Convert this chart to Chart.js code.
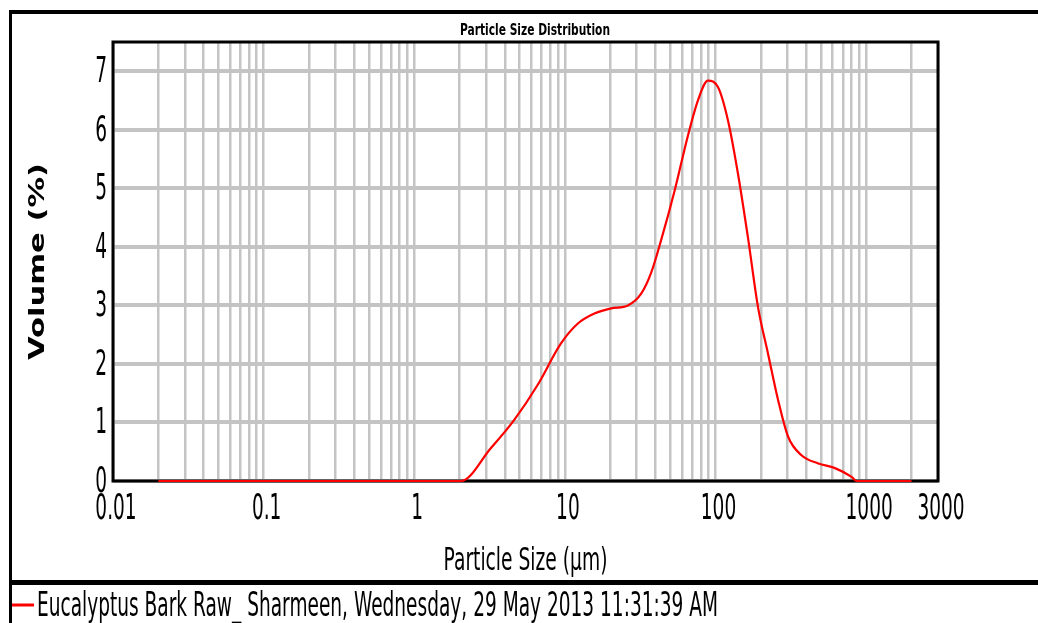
<!DOCTYPE html>
<html>
<head>
<meta charset="utf-8">
<script src="https://cdn.jsdelivr.net/npm/chart.js@4.4.1/dist/chart.umd.min.js"></script>
<style>
  body { margin: 0; background: #fff; }
  canvas { display: block; }
</style>
</head>
<body>
<canvas id="psd" width="1038" height="623"></canvas>
<script>
// particle size (um) and volume (%) along the measured curve
var sizes = [0.02, 2.04, 3.22, 4.6, 6.59, 9.42, 12.2, 15.7, 20.3, 26.2, 32.1, 37.4, 43.6, 53.4, 65.6, 76.4,
  89.1, 103.8, 121, 141, 164, 191.5, 223, 260.5, 303, 372, 481, 621, 801, 865, 2000];
var volumes = [0, 0, 0.56, 1.04, 1.64, 2.35, 2.69, 2.86, 2.95, 3.0, 3.2, 3.56, 4.12, 4.95, 5.9, 6.5,
  6.84, 6.73, 6.16, 5.25, 4.17, 2.97, 2.18, 1.38, 0.76, 0.44, 0.30, 0.22, 0.07, 0, 0];

var xLabels = [0.01, 0.1, 1, 10, 100, 1000, 3000];
var yLabels = [0, 1, 2, 3, 4, 5, 6, 7];
var sampleName = 'Eucalyptus Bark Raw_ Sharmeen, Wednesday, 29 May 2013 11:31:39 AM';

// grid lines at 1..9 of every decade, 0.01 up to the 3000 edge
var xGrid = [];
for (var e = -2; e <= 3; e++) {
  for (var m = 1; m <= 9; m++) {
    var v = +(m * Math.pow(10, e)).toPrecision(3);
    if (v <= 3000) xGrid.push(v);
  }
}

var FONT = '"DejaVu Sans", Verdana, sans-serif';

// text squeezed horizontally, like the old report export
function narrow(ctx, text, x, y, font, sx, align) {
  ctx.save();
  ctx.font = font;
  ctx.fillStyle = '#000';
  ctx.textAlign = align || 'left';
  ctx.textBaseline = 'alphabetic';
  ctx.translate(x, y);
  ctx.scale(sx, 1);
  ctx.fillText(text, 0, 0);
  ctx.restore();
}
function fitted(ctx, text, x, y, font, width, align) {
  ctx.save();
  ctx.font = font;
  var sx = width / ctx.measureText(text).width;
  ctx.restore();
  narrow(ctx, text, x, y, font, sx, align);
}

var frame = {
  id: 'frame',
  beforeDraw: function (chart) {
    var ctx = chart.ctx;
    ctx.save();
    ctx.fillStyle = '#fff';
    ctx.fillRect(0, 0, chart.width, chart.height);
    ctx.fillStyle = '#000';
    ctx.fillRect(10, 10, chart.width - 10, 4);
    ctx.fillRect(9, 10, 3, chart.height - 10);
    ctx.fillRect(10, 580, chart.width - 10, 5);
    ctx.restore();
  },
  beforeDatasetsDraw: function (chart) {
    var a = chart.chartArea, ctx = chart.ctx;
    ctx.save();
    ctx.strokeStyle = '#000';
    ctx.lineWidth = 3;
    ctx.strokeRect(a.left, a.top, a.right - a.left, a.bottom - a.top);
    ctx.restore();
  },
  afterDraw: function (chart) {
    var ctx = chart.ctx, x = chart.scales.x, y = chart.scales.y;
    var tickFont = '35px ' + FONT;
    xLabels.forEach(function (v) {
      narrow(ctx, String(v), x.getPixelForValue(v) + 3, 519, tickFont, 0.53, 'center');
    });
    yLabels.forEach(function (v) {
      narrow(ctx, String(v), 107, y.getPixelForValue(v) + 11, tickFont, 0.53, 'right');
    });

    fitted(ctx, 'Particle Size Distribution', 535, 35, 'bold 16px ' + FONT, 150, 'center');
    fitted(ctx, 'Particle Size (\u00b5m)', (x.left + x.right) / 2, 570, '32px ' + FONT, 164, 'center');

    // rotated y title
    ctx.save();
    ctx.translate(38, (y.top + y.bottom) / 2);
    ctx.rotate(-Math.PI / 2);
    ctx.font = 'bold 30px ' + FONT;
    var w = ctx.measureText('Volume (%)').width;
    ctx.scale(197 / w, 0.72);
    ctx.fillStyle = '#000';
    ctx.textAlign = 'center';
    ctx.textBaseline = 'middle';
    ctx.fillText('Volume (%)', 0, 0);
    ctx.restore();

    // legend entry
    ctx.save();
    ctx.strokeStyle = '#ff0000';
    ctx.lineWidth = 3;
    ctx.beginPath();
    ctx.moveTo(12, 605);
    ctx.lineTo(34, 605);
    ctx.stroke();
    ctx.restore();
    fitted(ctx, sampleName, 37, 616, '34px ' + FONT, 681, 'left');
  }
};

new Chart(document.getElementById('psd').getContext('2d'), {
  type: 'line',
  data: {
    datasets: [{
      label: sampleName,
      data: sizes.map(function (s, i) { return { x: s, y: volumes[i] }; }),
      borderColor: '#ff0000',
      borderWidth: 2.2,
      pointRadius: 0,
      cubicInterpolationMode: 'monotone',
      clip: false
    }]
  },
  options: {
    responsive: false,
    animation: false,
    layout: { padding: { left: 113, top: 42, right: 100, bottom: 142 } },
    plugins: { legend: { display: false }, title: { display: false }, tooltip: { enabled: false } },
    scales: {
      x: {
        type: 'logarithmic',
        min: 0.01,
        max: 3000,
        afterBuildTicks: function (scale) {
          scale.ticks = xGrid.map(function (v) { return { value: v }; });
        },
        ticks: { display: false },
        grid: { color: '#c4c4c4', lineWidth: 2.5, drawTicks: false },
        border: { display: false }
      },
      y: {
        min: 0,
        max: 7.5,
        afterBuildTicks: function (scale) {
          scale.ticks = yLabels.map(function (v) { return { value: v }; });
        },
        ticks: { display: false },
        grid: { color: '#c4c4c4', lineWidth: 4, drawTicks: false },
        border: { display: false }
      }
    }
  },
  plugins: [frame]
});
</script>
</body>
</html>
